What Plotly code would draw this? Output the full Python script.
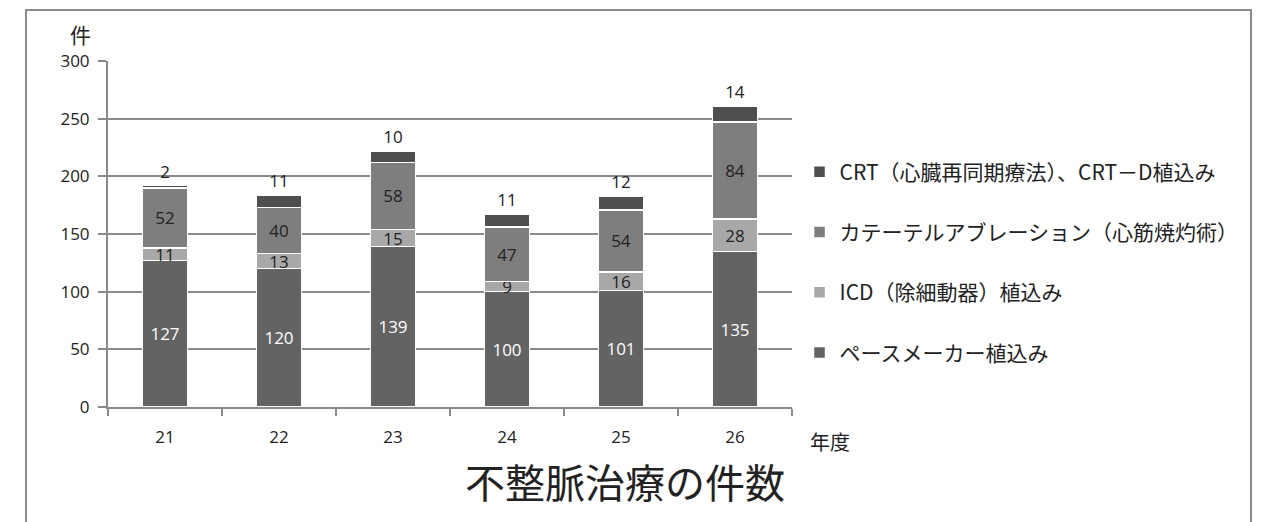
import plotly.graph_objects as go

years = ["21", "22", "23", "24", "25", "26"]
pacemaker = [127, 120, 139, 100, 101, 135]
icd = [11, 13, 15, 9, 16, 28]
ablation = [52, 40, 58, 47, 54, 84]
crt = [2, 11, 10, 11, 12, 14]

series_names = [
    "ペースメーカー植込み",
    "ICD（除細動器）植込み",
    "カテーテルアブレーション（心筋焼灼術）",
    "CRT（心臓再同期療法）、CRT－D植込み",
]
series_values = [pacemaker, icd, ablation, crt]
series_colors = ["#636363", "#a8a8a8", "#7e7e7e", "#4f4f4f"]
label_colors = ["#ffffff", "#222222", "#222222", "#222222"]
label_pos = ["inside", "inside", "inside", "outside"]

label_font = "Open Sans, Noto Sans, sans-serif"
jp_font = "Noto Sans CJK JP, sans-serif"

fig = go.Figure()
for i, (name, vals) in enumerate(zip(series_names, series_values)):
    fig.add_trace(go.Bar(
        x=years, y=vals, name=name, legendgroup=f"g{i}", legendrank=10 - i,
        marker=dict(color=series_colors[i], line=dict(color="#ffffff", width=1.5)),
        text=[str(v) for v in vals], textposition=label_pos[i], textangle=0,
        insidetextanchor="middle", constraintext="none",
        textfont=dict(color=label_colors[i], size=17, family=label_font),
        outsidetextfont=dict(color=label_colors[i], size=17, family=label_font),
        cliponaxis=False,
    ))

fig.update_layout(
    barmode="stack",
    bargap=0.605,
    width=1274, height=522,
    margin=dict(l=108, r=482, t=61, b=115),
    paper_bgcolor="white", plot_bgcolor="white",
    showlegend=True,
    legend=dict(
        x=1.011, y=0.4176, xanchor="left", yanchor="middle",
        traceorder="grouped", tracegroupgap=30,
        font=dict(family=jp_font, size=21, color="#222222"),
        itemwidth=30,
    ),
    xaxis=dict(
        showline=True, linecolor="#8a8a8a", linewidth=2,
        ticks="outside", tickson="boundaries", ticklen=7, tickcolor="#8a8a8a", tickwidth=1.5,
        tickfont=dict(family=label_font, size=17, color="#222222"),
        ticklabelstandoff=14,
        showgrid=False,
    ),
    yaxis=dict(
        range=[0, 300], dtick=50,
        showline=True, linecolor="#8a8a8a", linewidth=2,
        ticks="outside", ticklen=8, tickcolor="#8a8a8a", tickwidth=1.5,
        tickfont=dict(family=label_font, size=17, color="#222222"),
        ticklabelstandoff=5,
        showgrid=True, gridcolor="#8a8a8a", gridwidth=1.5,
        zeroline=False,
    ),
)

# outer frame around the whole chart
fig.add_shape(type="rect", xref="paper", yref="paper",
              x0=-0.1199, x1=1.6711, y0=-0.36, y1=1.1474,
              line=dict(color="#8c8c8c", width=2), fillcolor="rgba(0,0,0,0)", layer="below")

fig.add_annotation(text="件", xref="paper", yref="paper", x=-0.0395, y=1.078,
                   xanchor="center", yanchor="middle",
                   showarrow=False, font=dict(family=jp_font, size=21, color="#222222"))
fig.add_annotation(text="年度", xref="paper", yref="paper", x=1.055, y=-0.101,
                   xanchor="center", yanchor="middle",
                   showarrow=False, font=dict(family=jp_font, size=20, color="#222222"))
fig.add_annotation(text="不整脈治療の件数", xref="paper", yref="paper", x=0.7558, y=-0.214,
                   xanchor="center", yanchor="middle",
                   showarrow=False, font=dict(family=jp_font, size=40, color="#222222"))

fig.write_html("out.html")
